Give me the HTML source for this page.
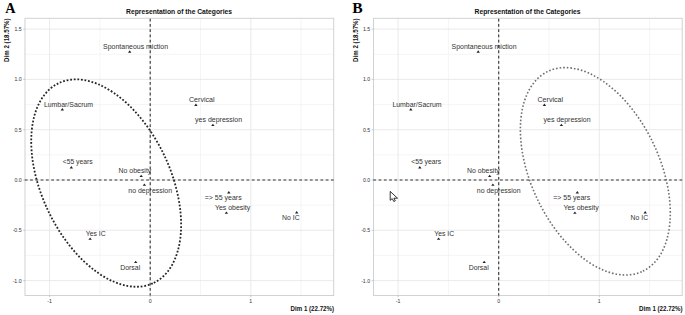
<!DOCTYPE html>
<html><head><meta charset="utf-8"><style>
html,body{margin:0;padding:0;background:#fff;}
svg{display:block;}
.g{stroke:#e4e4e4;stroke-width:0.8;}
.gm{stroke:#f0f0f0;stroke-width:0.7;}
.frame{fill:none;stroke:#d2d2d2;stroke-width:1;}
.tk{stroke:#aaa;stroke-width:0.6;}
.tl{font-family:"Liberation Sans",sans-serif;font-size:5.2px;fill:#333;}
.lb{font-family:"Liberation Sans",sans-serif;font-size:7px;fill:#333;}
.ti{font-family:"Liberation Sans",sans-serif;font-size:7.2px;font-weight:bold;fill:#111;}
.ax{font-family:"Liberation Sans",sans-serif;font-size:6.5px;font-weight:bold;fill:#111;}
.dash{stroke:#333;stroke-width:1.1;stroke-dasharray:2.8 2.479;}
.tri{fill:#222;}
.big{font-family:"Liberation Serif",serif;font-weight:bold;font-size:15.6px;fill:#000;}
</style></head><body>
<svg width="685" height="315" viewBox="0 0 685 315">
<g id="pa">
<line x1="99.90" y1="18.3" x2="99.90" y2="295.5" class="gm"/>
<line x1="200.50" y1="18.3" x2="200.50" y2="295.5" class="gm"/>
<line x1="301.10" y1="18.3" x2="301.10" y2="295.5" class="gm"/>
<line x1="25.0" y1="255.45" x2="333.7" y2="255.45" class="gm"/>
<line x1="25.0" y1="205.15" x2="333.7" y2="205.15" class="gm"/>
<line x1="25.0" y1="154.85" x2="333.7" y2="154.85" class="gm"/>
<line x1="25.0" y1="104.55" x2="333.7" y2="104.55" class="gm"/>
<line x1="25.0" y1="54.25" x2="333.7" y2="54.25" class="gm"/>
<line x1="49.60" y1="18.3" x2="49.60" y2="295.5" class="g"/>
<line x1="150.20" y1="18.3" x2="150.20" y2="295.5" class="g"/>
<line x1="250.80" y1="18.3" x2="250.80" y2="295.5" class="g"/>
<line x1="25.0" y1="280.60" x2="333.7" y2="280.60" class="g"/>
<line x1="25.0" y1="230.30" x2="333.7" y2="230.30" class="g"/>
<line x1="25.0" y1="180.00" x2="333.7" y2="180.00" class="g"/>
<line x1="25.0" y1="129.70" x2="333.7" y2="129.70" class="g"/>
<line x1="25.0" y1="79.40" x2="333.7" y2="79.40" class="g"/>
<line x1="25.0" y1="29.10" x2="333.7" y2="29.10" class="g"/>
<rect x="25.0" y="18.3" width="308.70" height="277.20" class="frame"/>
<line x1="49.60" y1="295.5" x2="49.60" y2="297.3" class="tk"/>
<text x="49.50" y="303.2" class="tl" text-anchor="middle">-1</text>
<line x1="150.20" y1="295.5" x2="150.20" y2="297.3" class="tk"/>
<text x="150.10" y="303.2" class="tl" text-anchor="middle">0</text>
<line x1="250.80" y1="295.5" x2="250.80" y2="297.3" class="tk"/>
<text x="250.70" y="303.2" class="tl" text-anchor="middle">1</text>
<line x1="23.2" y1="280.60" x2="25.0" y2="280.60" class="tk"/>
<text x="21.6" y="282.50" class="tl" text-anchor="end">-1.0</text>
<line x1="23.2" y1="230.30" x2="25.0" y2="230.30" class="tk"/>
<text x="21.6" y="232.20" class="tl" text-anchor="end">-0.5</text>
<line x1="23.2" y1="180.00" x2="25.0" y2="180.00" class="tk"/>
<text x="21.6" y="181.90" class="tl" text-anchor="end">0.0</text>
<line x1="23.2" y1="129.70" x2="25.0" y2="129.70" class="tk"/>
<text x="21.6" y="131.60" class="tl" text-anchor="end">0.5</text>
<line x1="23.2" y1="79.40" x2="25.0" y2="79.40" class="tk"/>
<text x="21.6" y="81.30" class="tl" text-anchor="end">1.0</text>
<line x1="23.2" y1="29.10" x2="25.0" y2="29.10" class="tk"/>
<text x="21.6" y="31.00" class="tl" text-anchor="end">1.5</text>
<line x1="24.8" y1="180.00" x2="333.7" y2="180.00" class="dash"/>
<line x1="150.20" y1="18.7" x2="150.20" y2="295.5" class="dash"/>
<path d="M129.70 50.30L131.40 52.70L128.00 52.70Z" class="tri"/>
<text x="103.1" y="49.1" class="lb" textLength="65.0" lengthAdjust="spacingAndGlyphs">Spontaneous miction</text>
<path d="M62.30 108.10L64.00 110.50L60.60 110.50Z" class="tri"/>
<text x="43.9" y="106.9" class="lb" textLength="49.2" lengthAdjust="spacingAndGlyphs">Lumbar/Sacrum</text>
<path d="M195.90 103.50L197.60 105.90L194.20 105.90Z" class="tri"/>
<text x="189" y="101.6" class="lb" textLength="25.6" lengthAdjust="spacingAndGlyphs">Cervical</text>
<path d="M212.90 123.70L214.60 126.10L211.20 126.10Z" class="tri"/>
<text x="195.1" y="122.3" class="lb" textLength="47.0" lengthAdjust="spacingAndGlyphs">yes depression</text>
<path d="M71.30 166.10L73.00 168.50L69.60 168.50Z" class="tri"/>
<text x="62.7" y="164.4" class="lb" textLength="29.9" lengthAdjust="spacingAndGlyphs">&lt;55 years</text>
<path d="M141.20 174.70L142.90 177.10L139.50 177.10Z" class="tri"/>
<text x="118.5" y="172.6" class="lb" textLength="32.8" lengthAdjust="spacingAndGlyphs">No obesity</text>
<path d="M144.40 183.40L146.10 185.80L142.70 185.80Z" class="tri"/>
<text x="128.3" y="192.6" class="lb" textLength="43.8" lengthAdjust="spacingAndGlyphs">no depression</text>
<path d="M228.80 191.00L230.50 193.40L227.10 193.40Z" class="tri"/>
<text x="204.7" y="199.9" class="lb" textLength="37.0" lengthAdjust="spacingAndGlyphs">=&gt; 55 years</text>
<path d="M226.40 211.40L228.10 213.80L224.70 213.80Z" class="tri"/>
<text x="214.9" y="210.0" class="lb" textLength="35.4" lengthAdjust="spacingAndGlyphs">Yes obesity</text>
<path d="M296.70 211.00L298.40 213.40L295.00 213.40Z" class="tri"/>
<text x="282.1" y="219.8" class="lb" textLength="17.5" lengthAdjust="spacingAndGlyphs">No IC</text>
<path d="M90.10 237.40L91.80 239.80L88.40 239.80Z" class="tri"/>
<text x="85.7" y="236.3" class="lb" textLength="20.0" lengthAdjust="spacingAndGlyphs">Yes IC</text>
<path d="M135.70 260.70L137.40 263.10L134.00 263.10Z" class="tri"/>
<text x="120.2" y="269.7" class="lb" textLength="20.0" lengthAdjust="spacingAndGlyphs">Dorsal</text>
<text x="126.1" y="13.7" class="ti" textLength="106" lengthAdjust="spacingAndGlyphs">Representation of the Categories</text>
<text x="290.6" y="310.9" class="ax" textLength="43.4" lengthAdjust="spacingAndGlyphs">Dim 1 (22.72%)</text>
<text transform="translate(9.2,61.9) rotate(-90)" class="ax" style="font-size:6.4px" textLength="43.5" lengthAdjust="spacingAndGlyphs">Dim 2 (18.57%)</text>
</g>
<use href="#pa" transform="translate(348.5,0)"/>
<ellipse id="ea" cx="106.18" cy="183.05" rx="110.6" ry="64.33" transform="rotate(64.69 106.18 183.05)" fill="none" stroke="#262626" stroke-width="1.8" stroke-dasharray="1.8 1.7847" stroke-dashoffset="2.82"/>
<ellipse id="eb" cx="595.34" cy="171.31" rx="110.6" ry="64.33" transform="rotate(64.69 595.34 171.31)" fill="none" stroke="#6e6e6e" stroke-width="1.6" stroke-dasharray="1.6 1.9847" stroke-dashoffset="2.568"/>
<text transform="translate(10.3,12.9) scale(0.91,1)" text-anchor="middle" class="big">A</text>
<text transform="translate(357.4,13.35)" text-anchor="middle" class="big">B</text>
<path d="M390.2 191.4 L390.2 200.3 L392.2 198.6 L393.8 201.5 L395.3 200.8 L393.9 198.2 L397.5 198.2 Z" fill="#fff" stroke="#000" stroke-width="0.8" stroke-linejoin="miter"/>
</svg>
</body></html>
